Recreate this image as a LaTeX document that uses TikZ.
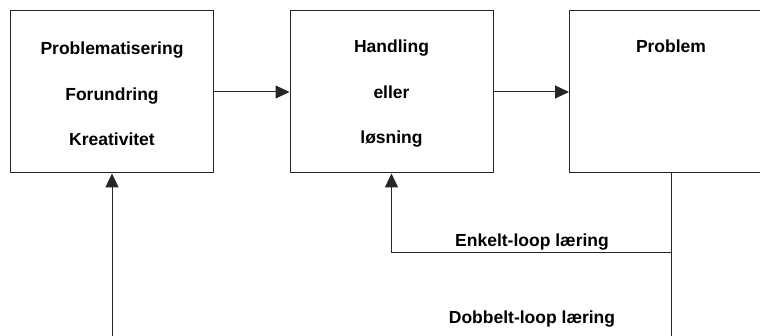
\documentclass[tikz,border=0pt]{standalone}
\usepackage{fontspec}
\setmainfont{Liberation Sans}
\usetikzlibrary{arrows.meta}
\begin{document}
\begin{tikzpicture}[x=1pt,y=-1pt,
  box/.style={draw=black!85, line width=1pt, minimum width=203pt, minimum height=162pt,
    inner sep=0pt},
  txt/.style={inner sep=0pt, align=center, font=\fontsize{17.5}{45.5}\selectfont\bfseries},
  lbl/.style={font=\fontsize{17.5}{21}\selectfont\bfseries, inner sep=0pt},
  conn/.style={draw=black!85, line width=1pt},
  arr/.style={conn, -{Triangle[length=14pt,width=13pt]}}]
  \useasboundingbox (0,0) rectangle (760,336);
  \clip (0,0) rectangle (760,336);
  \fill[white] (0,0) rectangle (760,336);

  % the three stages
  \node[box] (b1) at (112,92) {};
  \node[box] (b2) at (391.5,92) {};
  \node[box] (b3) at (671,92) {};
  \node[txt] (t1) at (112,94) {Problematisering\\Forundring\\Kreativitet};
  \node[txt] (t2) at (391.5,94) {Handling\\eller\\løsning};
  \node[lbl, anchor=base] (t3) at (671,53) {Problem};

  % forward flow
  \draw[arr] (b1.east) -- (b2.west);
  \draw[arr] (b2.east) -- (b3.west);

  % feedback loops
  \coordinate (ek) at (671,253);
  \coordinate (botR) at (671,340);
  \coordinate (botL) at (112,340);
  \draw[conn] (b3.south) -- (botR);
  \draw[arr] (ek) -| (b2.south);
  \draw[arr] (botL) -- (b1.south);

  \node[lbl, anchor=base] (enk) at (532,247) {Enkelt-loop læring};
  \node[lbl, anchor=base] (dob) at (532,324) {Dobbelt-loop læring};
\end{tikzpicture}
\end{document}
